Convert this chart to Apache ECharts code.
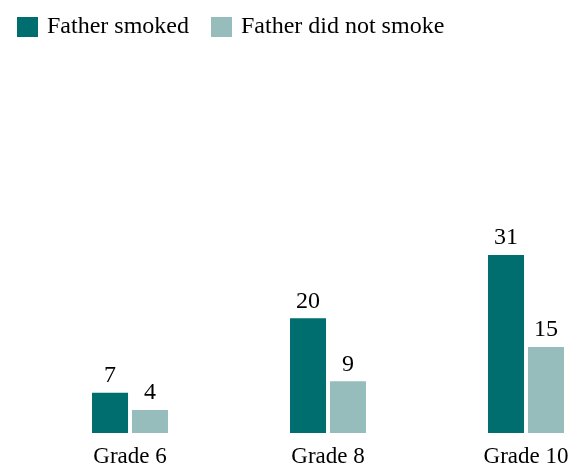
<!DOCTYPE html>
<html>
<head>
<meta charset="utf-8">
<script src="https://cdn.jsdelivr.net/npm/echarts@6/dist/echarts.min.js"></script>
<style>
  html, body { margin: 0; padding: 0; background: #ffffff; }
  #chart-container { width: 580px; height: 471px; }
</style>
</head>
<body>
<div id="chart-container"></div>
<script>
var dom = document.getElementById("chart-container");
var myChart = echarts.init(dom, null, { renderer: "canvas" });

const grades = ["Grade 6", "Grade 8", "Grade 10"];
const fatherSmoked = [7, 20, 31];
const fatherDidNotSmoke = [4, 9, 15];

const font = "Liberation Serif";

function barSeries(name, data, color) {
  return {
    name: name,
    type: "bar",
    data: data,
    barWidth: 36,
    barGap: "11%",
    itemStyle: { color: color },
    label: {
      show: true,
      position: "top",
      distance: 5,
      color: "#000000",
      fontFamily: font,
      fontSize: 24,
    },
  };
}

var option = {
  backgroundColor: "#ffffff",
  animation: false,
  legend: {
    left: 12,
    top: 10,
    itemWidth: 21,
    itemHeight: 20,
    itemGap: 22,
    icon: "rect",
    textStyle: {
      fontFamily: font,
      fontSize: 24,
      color: "#000000",
      padding: [0, 0, 0, 4],
    },
  },
  // grid runs past the right edge so the three groups sit where the reference has them
  grid: {
    left: 31,
    right: -45,
    top: 60,
    bottom: 38,
    containLabel: false,
    outerBoundsMode: "none",
  },
  xAxis: {
    type: "category",
    data: grades,
    axisLine: { show: false },
    axisTick: { show: false },
    axisLabel: {
      margin: 12,
      color: "#000000",
      fontFamily: font,
      fontSize: 23,
    },
  },
  yAxis: {
    type: "value",
    min: 0,
    max: 65,
    show: false,
    splitLine: { show: false },
  },
  series: [
    barSeries("Father smoked", fatherSmoked, "#006d6e"),
    barSeries("Father did not smoke", fatherDidNotSmoke, "#97bcbc"),
  ],
};

myChart.setOption(option);
window.addEventListener("resize", myChart.resize);
</script>
</body>
</html>
